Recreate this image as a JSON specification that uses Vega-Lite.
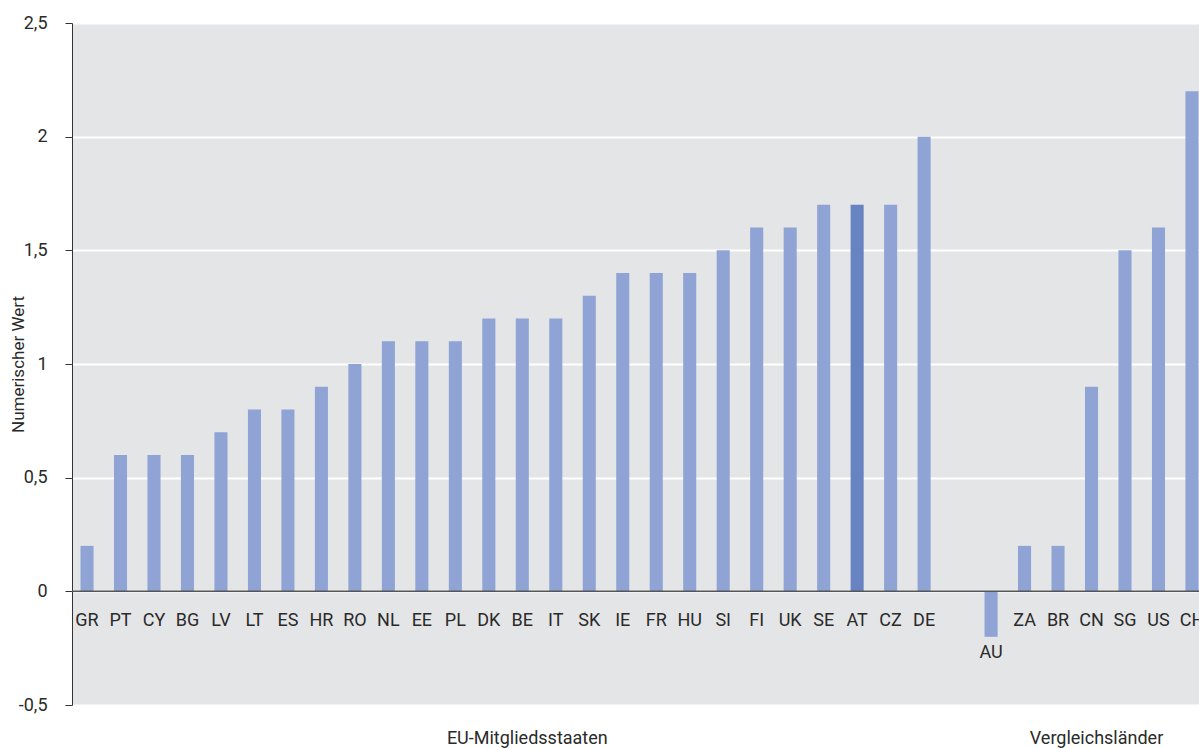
{
  "$schema": "https://vega.github.io/schema/vega-lite/v6.json",
  "width": 1127,
  "height": 682,
  "autosize": {"type": "none"},
  "padding": {"left": 72, "top": 23, "right": 0, "bottom": 43},
  "background": "white",
  "config": {
    "view": {"fill": "#e4e5e7", "stroke": null},
    "font": "Roboto"
  },
  "data": {
    "values": [
      {"country": "GR", "group": "EU", "value": 0.2},
      {"country": "PT", "group": "EU", "value": 0.6},
      {"country": "CY", "group": "EU", "value": 0.6},
      {"country": "BG", "group": "EU", "value": 0.6},
      {"country": "LV", "group": "EU", "value": 0.7},
      {"country": "LT", "group": "EU", "value": 0.8},
      {"country": "ES", "group": "EU", "value": 0.8},
      {"country": "HR", "group": "EU", "value": 0.9},
      {"country": "RO", "group": "EU", "value": 1.0},
      {"country": "NL", "group": "EU", "value": 1.1},
      {"country": "EE", "group": "EU", "value": 1.1},
      {"country": "PL", "group": "EU", "value": 1.1},
      {"country": "DK", "group": "EU", "value": 1.2},
      {"country": "BE", "group": "EU", "value": 1.2},
      {"country": "IT", "group": "EU", "value": 1.2},
      {"country": "SK", "group": "EU", "value": 1.3},
      {"country": "IE", "group": "EU", "value": 1.4},
      {"country": "FR", "group": "EU", "value": 1.4},
      {"country": "HU", "group": "EU", "value": 1.4},
      {"country": "SI", "group": "EU", "value": 1.5},
      {"country": "FI", "group": "EU", "value": 1.6},
      {"country": "UK", "group": "EU", "value": 1.6},
      {"country": "SE", "group": "EU", "value": 1.7},
      {"country": "AT", "group": "EU", "value": 1.7},
      {"country": "CZ", "group": "EU", "value": 1.7},
      {"country": "DE", "group": "EU", "value": 2.0},
      {"country": "AU", "group": "Vergleich", "value": -0.2},
      {"country": "ZA", "group": "Vergleich", "value": 0.2},
      {"country": "BR", "group": "Vergleich", "value": 0.2},
      {"country": "CN", "group": "Vergleich", "value": 0.9},
      {"country": "SG", "group": "Vergleich", "value": 1.5},
      {"country": "US", "group": "Vergleich", "value": 1.6},
      {"country": "CH", "group": "Vergleich", "value": 2.2}
    ]
  },
  "layer": [
    {
      "mark": {"type": "bar", "clip": true},
      "encoding": {
        "x": {
          "field": "country",
          "type": "nominal",
          "scale": {
            "domain": ["GR","PT","CY","BG","LV","LT","ES","HR","RO","NL","EE","PL","DK","BE","IT","SK","IE","FR","HU","SI","FI","UK","SE","AT","CZ","DE"," ","AU","ZA","BR","CN","SG","US","CH"],
            "range": [0, 1135],
            "paddingInner": 0.61,
            "paddingOuter": 0.254
          },
          "axis": null
        },
        "y": {
          "field": "value",
          "type": "quantitative",
          "scale": {"domain": [-0.5, 2.5], "nice": false, "zero": false},
          "axis": {
            "title": "Numerischer Wert",
            "values": [-0.5, 0, 0.5, 1, 1.5, 2, 2.5],
            "labelExpr": "replace(toString(datum.value), '.', ',')",
            "grid": true,
            "gridColor": "#ffffff",
            "gridWidth": 2,
            "domainColor": "#333333",
            "tickColor": "#333333",
            "tickSize": 7,
            "labelFontSize": 18,
            "labelPadding": 18,
            "labelColor": "#2a2a2a",
            "titleFontSize": 17,
            "titleFontWeight": "normal",
            "titleColor": "#2a2a2a",
            "titleX": -54,
            "titleBaseline": "middle",
            "titleAlign": "center",
            "titleAngle": -90
          }
        },
        "color": {
          "condition": {"test": "datum.country === 'AT'", "value": "#6883c2"},
          "value": "#8fa3d4"
        }
      }
    },
    {
      "data": {"values": [{}]},
      "mark": {"type": "rule", "color": "#555555", "strokeWidth": 1.5},
      "encoding": {"y": {"datum": 0}}
    },
    {
      "transform": [{"filter": "datum.value >= 0"}],
      "mark": {"type": "text", "baseline": "top", "dy": 21, "fontSize": 18, "color": "#2a2a2a", "clip": true},
      "encoding": {
        "x": {"field": "country", "type": "nominal"},
        "y": {"datum": 0},
        "text": {"field": "country"}
      }
    },
    {
      "transform": [{"filter": "datum.value < 0"}],
      "mark": {"type": "text", "baseline": "top", "dy": 7, "fontSize": 18, "color": "#2a2a2a", "clip": true},
      "encoding": {
        "x": {"field": "country", "type": "nominal"},
        "y": {"field": "value", "type": "quantitative"},
        "text": {"field": "country"}
      }
    },
    {
      "data": {"values": [{}]},
      "mark": {"type": "text", "baseline": "alphabetic", "dx": 5, "fontSize": 18, "color": "#2a2a2a"},
      "encoding": {
        "x": {"datum": "BE", "type": "nominal"},
        "y": {"datum": -0.67},
        "text": {"value": "EU-Mitgliedsstaaten"}
      }
    },
    {
      "data": {"values": [{}]},
      "mark": {"type": "text", "baseline": "alphabetic", "dx": 5, "fontSize": 18, "color": "#2a2a2a"},
      "encoding": {
        "x": {"datum": "CN", "type": "nominal"},
        "y": {"datum": -0.67},
        "text": {"value": "Vergleichsländer"}
      }
    }
  ]
}
